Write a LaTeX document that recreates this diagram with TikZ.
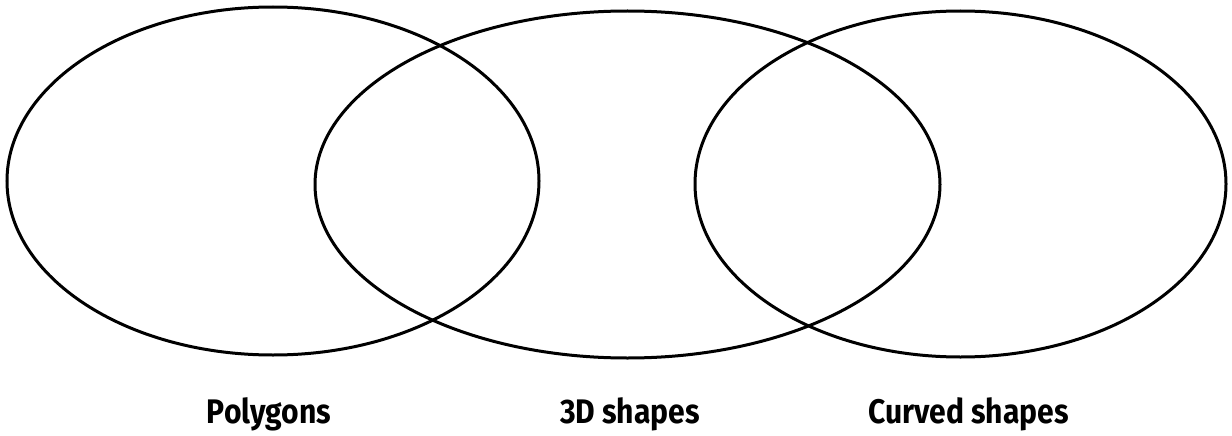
\documentclass[tikz,border=0pt]{standalone}
\usepackage{fontspec}
\setmainfont{Fira Sans}
\newcommand{\tallbold}[1]{\scalebox{0.97}[1.1]{#1}}
\begin{document}
\begin{tikzpicture}[x=1pt,y=-1pt,
  setring/.style={draw=black,line width=3pt},
  setlabel/.style={font=\fontsize{31}{35}\selectfont\bfseries,anchor=base,inner sep=0pt}]
\useasboundingbox (0,0) rectangle (1232,436);
\draw[setring] (273,181) ellipse [x radius=266, y radius=174];
\draw[setring] (627.5,184.5) ellipse [x radius=312.5, y radius=173.5];
\draw[setring] (960.5,184) ellipse [x radius=265.5, y radius=173];
\node[setlabel] (poly) at (269,423) {\tallbold{Polygons}};
\node[setlabel] (threed) at (630,423) {\tallbold{3D shapes}};
\node[setlabel] (curved) at (968.5,423) {\tallbold{Curved shapes}};
\end{tikzpicture}
\end{document}
